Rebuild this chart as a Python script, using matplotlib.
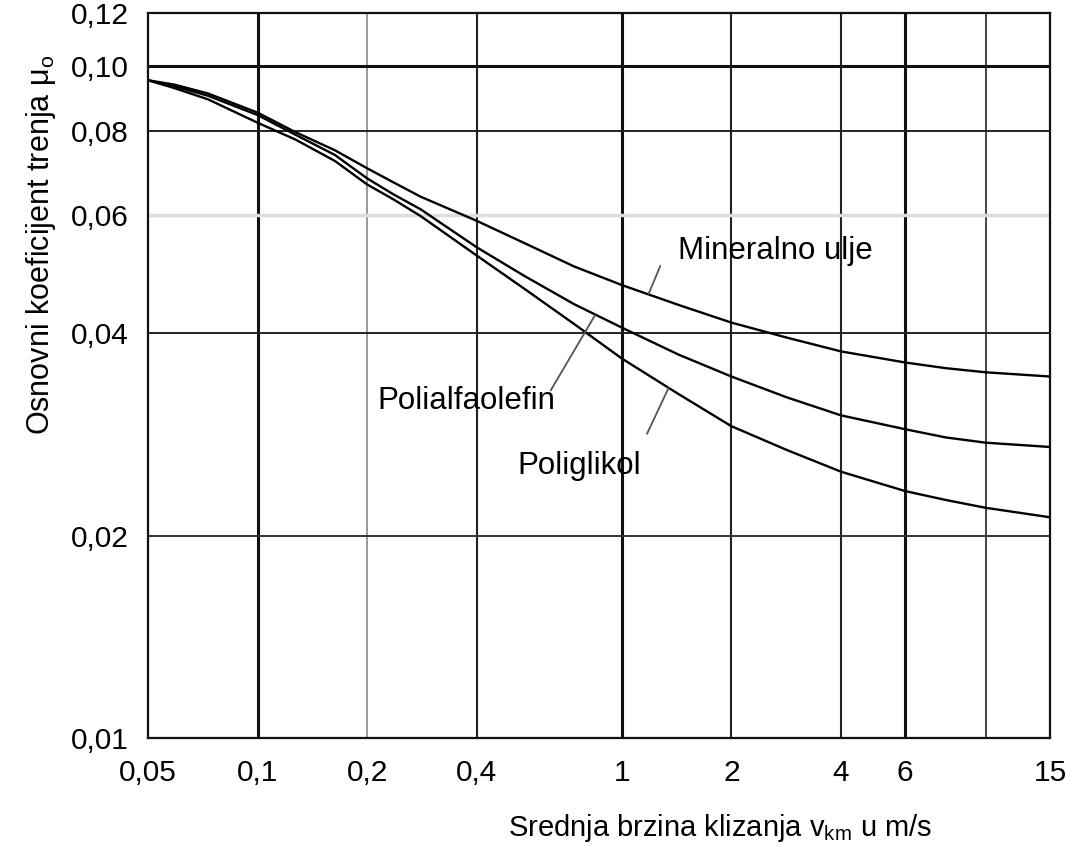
import matplotlib
matplotlib.use("Agg")
import matplotlib.pyplot as plt
from matplotlib.ticker import FixedLocator, NullLocator

plt.rcParams['font.family'] = ['Liberation Sans', 'DejaVu Sans']
plt.rcParams['mathtext.fontset'] = 'custom'
plt.rcParams['mathtext.rm'] = 'Liberation Sans'
plt.rcParams['mathtext.it'] = 'Liberation Sans:italic'

# data
speed = [0.05, 0.059, 0.073, 0.1, 0.127, 0.163, 0.2, 0.236, 0.28, 0.4, 0.54,
         0.74, 1, 1.43, 2, 2.85, 4, 6, 7.76, 10, 15]
mineralno = [0.0952, 0.0938, 0.0910, 0.0852, 0.0797, 0.0749, 0.0704, 0.0671,
             0.0639, 0.0588, 0.0545, 0.0503, 0.0472, 0.0441, 0.0415, 0.0394,
             0.0376, 0.0362, 0.0355, 0.0350, 0.0345]
polialfaolefin = [0.0952, 0.0933, 0.0903, 0.0845, 0.0790, 0.0737, 0.0680, 0.0644,
                  0.0612, 0.0537, 0.0487, 0.0442, 0.0408, 0.0372, 0.0345, 0.0321,
                  0.0302, 0.0288, 0.0280, 0.0275, 0.0271]
poliglikol = [0.0952, 0.0927, 0.0892, 0.0823, 0.0777, 0.0722, 0.0666, 0.0633,
              0.0598, 0.0522, 0.0466, 0.0413, 0.0367, 0.0325, 0.0291, 0.0268,
              0.0249, 0.0233, 0.0226, 0.0220, 0.0213]

x_ticks = [0.05, 0.1, 0.2, 0.4, 1, 2, 4, 6, 15]
x_labels = ['0,05', '0,1', '0,2', '0,4', '1', '2', '4', '6', '15']
y_ticks = [0.01, 0.02, 0.04, 0.06, 0.08, 0.10, 0.12]
y_labels = ['0,01', '0,02', '0,04', '0,06', '0,08', '0,10', '0,12']

# curve labels: text, text position, leader line (curve end, outer end)
labels = [
    ('Mineralno ulje', (1.43, 0.0531), (1.185, 0.0458), (1.276, 0.0504)),
    ('Polialfaolefin', (0.213, 0.0317), (0.845, 0.0426), (0.638, 0.0329)),
    ('Poliglikol', (0.516, 0.02535), (1.345, 0.0332), (1.173, 0.02835)),
]

# grid lines: (value, width, color)
v_grid = [(0.1, 2.2, '#111111'), (0.2, 1.2, '#888888'), (0.4, 1.5, '#222222'),
          (1, 2.2, '#111111'), (2, 1.5, '#222222'), (4, 1.5, '#222222'),
          (6, 2.2, '#111111'), (10, 1.4, '#444444')]
h_grid = [(0.02, 1.4, '#333333'), (0.04, 1.4, '#222222'), (0.06, 2.5, '#dddddd'),
          (0.08, 1.4, '#222222'), (0.10, 2.2, '#111111')]

fig = plt.figure(figsize=(10.86, 8.46), dpi=100)
ax = fig.add_axes([0.1363, 0.1277, 0.8306, 0.8573])
ax.set_xscale('log')
ax.set_yscale('log')
ax.set_xlim(0.05, 15)
ax.set_ylim(0.01, 0.12)

for v, w, c in v_grid:
    ax.axvline(v, lw=w, color=c, zorder=1)
for v, w, c in h_grid:
    ax.axhline(v, lw=w, color=c, zorder=1)

for series in (mineralno, polialfaolefin, poliglikol):
    ax.plot(speed, series, color='black', lw=1.7, zorder=3,
            solid_joinstyle='round')

for text, tpos, p_curve, p_out in labels:
    ax.text(tpos[0], tpos[1], text, fontsize=22.5, ha='left', va='center')
    ax.annotate('', xy=p_curve, xytext=p_out,
                arrowprops=dict(arrowstyle='-', color='#555555', lw=1.3,
                                shrinkA=0, shrinkB=0))

ax.xaxis.set_major_locator(FixedLocator(x_ticks))
ax.xaxis.set_minor_locator(NullLocator())
ax.set_xticklabels(x_labels)
ax.yaxis.set_major_locator(FixedLocator(y_ticks))
ax.yaxis.set_minor_locator(NullLocator())
ax.set_yticklabels(y_labels)
ax.tick_params(axis='both', length=0, labelsize=21.5)
ax.tick_params(axis='x', pad=15)
ax.tick_params(axis='y', pad=14)

for s in ax.spines.values():
    s.set_linewidth(1.6)
    s.set_color('#111111')

fig.text(0.663, 0.021, 'Srednja brzina klizanja v$_{\\mathrm{km}}$ u m/s',
         fontsize=21, ha='center', va='center')
fig.text(0.038, 0.71, 'Osnovni koeficijent trenja μ$_{\\mathrm{o}}$',
         fontsize=22, ha='center', va='center', rotation=90)

fig.savefig('out.png', dpi=100)
